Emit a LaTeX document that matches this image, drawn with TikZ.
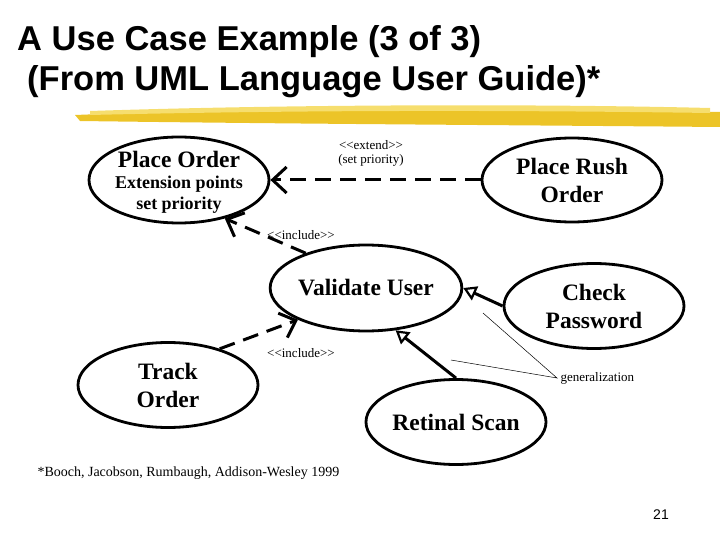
\documentclass[tikz,border=0pt]{standalone}
\usepackage{fontspec}
\setmainfont{Liberation Serif}
\newfontfamily\ttl{Liberation Sans}
\usetikzlibrary{arrows.meta,shapes.geometric}
\definecolor{brush}{RGB}{236,196,40}
\definecolor{brushl}{RGB}{246,222,110}
\begin{document}
\begin{tikzpicture}[x=1pt,y=-1pt,
  uc/.style={draw,ellipse,line width=2.8pt,minimum width=#1,inner sep=0pt},
  uc/.default=180pt,
  lbl/.style={font=\fontsize{23.5}{28}\selectfont\bfseries,align=center},
  sm/.style={font=\fontsize{13}{14}\selectfont},
  dep/.style={line width=3pt,dash pattern=on 16pt off 9pt,-{Straight Barb[length=14pt,width=26pt,line width=3pt]}},
  gen/.style={line width=3pt,-{Triangle[open,length=13pt,width=15pt,line width=2.2pt]}}]
\useasboundingbox (0,0) rectangle (720,540);
% title
\node[anchor=west,font=\ttl\fontsize{34.5}{36}\selectfont\bfseries,inner sep=0pt] (t1) at (17,42) {A Use Case Example (3 of 3)};
\node[anchor=west,font=\ttl\fontsize{34.5}{36}\selectfont\bfseries,inner sep=0pt] (t2) at (27,82) {(From UML Language User Guide)*};
% brush stroke
\fill[brush] (75,115) .. controls (300,106) and (550,108) .. (720,112) -- (720,127) .. controls (500,125) and (300,124) .. (80,121) -- cycle;
\fill[brushl] (90,111) .. controls (300,104) and (550,104) .. (710,108) -- (710,113) .. controls (500,110) and (300,110) .. (90,115) -- cycle;
% use cases
\node[uc,minimum height=86pt] (po) at (179,180) {};
\node[lbl,anchor=center] (pot) at (179,159) {Place Order};
\node[font=\fontsize{18}{21}\selectfont\bfseries,align=center] (pox) at (179,195) {Extension points\\set priority};
\node[uc,minimum height=84pt,lbl] (pr) at (572,180) {Place Rush\\Order};
\node[uc,minimum height=86pt,lbl] (vu) at (366,288) {Validate User};
\node[uc,minimum height=85pt,lbl] (cp) at (594,306) {Check\\Password};
\node[uc,minimum height=85pt,lbl] (to) at (168,385) {Track\\Order};
\node[uc,minimum height=85pt,lbl] (rs) at (456,422) {Retinal Scan};
% connectors
\draw[dep] (pr.west) -- (po.east);
\draw[dep] (vu.150) -- (po.-40);
\draw[dep] (to.35) -- (vu.205);
\draw[gen] (cp.west) -- (vu.east);
\draw[gen] (rs.north) -- (vu.-55);
% labels
\node[sm,align=center] (ext) at (371,153) {{<}{<}extend{>}{>}\\(set priority)};
\node[sm] (inc1) at (301,235) {{<}{<}include{>}{>}};
\node[sm] (inc2) at (301,353) {{<}{<}include{>}{>}};
\node[sm,anchor=west] (gl) at (557,378) {generalization};
\coordinate (g1) at (483,313);
\coordinate (g2) at (451,360);
\draw[line width=0.5pt] (g1) -- (gl.west) -- (g2);
\node[font=\fontsize{14}{15}\selectfont,anchor=west] (fn) at (34,473) {*Booch, Jacobson, Rumbaugh, Addison-Wesley 1999};
\node[font=\ttl\fontsize{14}{15}\selectfont] (pg) at (661,515) {21};
\end{tikzpicture}
\end{document}
